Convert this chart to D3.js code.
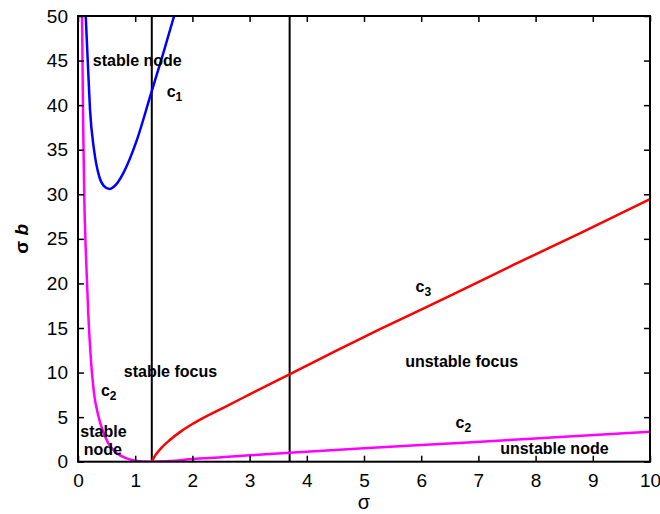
<!DOCTYPE html>
<html><head><meta charset="utf-8">
<script src="https://cdn.jsdelivr.net/npm/d3@7"></script>
<style>
body{margin:0;background:#fff;}
svg{display:block;}
text{font-family:"Liberation Sans",Arial,sans-serif;}
</style></head>
<body>
<svg id="chart" width="660" height="514"></svg>
<script>
// ---- data ----
const xTicks = [0,1,2,3,4,5,6,7,8,9,10];
const yTicks = [0,5,10,15,20,25,30,35,40,45,50];
const c1 = [[0.135,50],[0.17,45],[0.21,39.5],[0.28,35],[0.37,32],[0.45,30.95],[0.55,30.6],[0.66,31.05],[0.79,32.35],[1.03,36.1],[1.276,41.3],[1.49,45.8],[1.68,50]];
const c2Left = [[0.07,50],[0.09,38],[0.11,29.5],[0.14,23],[0.18,16.5],[0.22,12],[0.28,7.7],[0.35,5.3],[0.41,3.9],[0.53,2.06],[0.68,0.94],[0.85,0.38],[1.0,0.12],[1.15,0.02],[1.29,0]];
const c2Right = [[1.29,0],[1.6,0.08],[2.0,0.3],[2.5,0.5],[3.0,0.72],[3.7,1.0],[5,1.5],[6.74,2.13],[8.5,2.8],[10,3.37]];
const c3 = [[1.29,0],[1.35,0.7],[1.45,1.5],[1.6,2.4],[1.8,3.4],[2.02,4.3],[2.54,6.05],[3.0,7.55],[3.68,9.75],[4.5,12.4],[5.28,14.86],[6.5,18.6],[7.61,22.07],[8.8,25.7],[10,29.45]];
const vLines = [1.29, 3.70];
const regionLabels = [
  {t:"stable node", x:0.26, y:44.4},
  {t:"stable focus", x:0.8, y:9.5},
  {t:"stable", x:0.04, y:2.8},
  {t:"node", x:0.1, y:0.75},
  {t:"unstable focus", x:5.72, y:10.6},
  {t:"unstable node", x:7.38, y:0.85}
];
const curveLabels = [
  {c:"c", s:"1", x:1.55, y:40.9},
  {c:"c", s:"2", x:0.4, y:7.4},
  {c:"c", s:"3", x:5.9, y:19.0},
  {c:"c", s:"2", x:6.6, y:3.8}
];

// ---- layout ----
const W=660,H=514;
const m={l:78,r:10,t:16,b:52.3};
const svg=d3.select("#chart");
const x=d3.scaleLinear().domain([0,10]).range([m.l,W-m.r]);
const y=d3.scaleLinear().domain([0,50]).range([H-m.b,m.t]);

const line=d3.line().x(d=>x(d[0])).y(d=>y(d[1])).curve(d3.curveMonotoneX);
const clip=svg.append("clipPath").attr("id","clp").append("rect")
  .attr("x",m.l).attr("y",m.t).attr("width",W-m.l-m.r).attr("height",H-m.t-m.b);
const g=svg.append("g").attr("clip-path","url(#clp)");

g.selectAll(".vl").data(vLines).enter().append("line")
  .attr("x1",d=>x(d)).attr("x2",d=>x(d)).attr("y1",y(0)).attr("y2",y(50))
  .attr("stroke","#000").attr("stroke-width",2);

g.append("path").datum(c3).attr("d",line).attr("fill","none").attr("stroke","#ff0000").attr("stroke-width",2.5);
g.append("path").datum(c2Right).attr("d",line).attr("fill","none").attr("stroke","#ff00ff").attr("stroke-width",2.5);
g.append("path").datum(c2Left).attr("d",line).attr("fill","none").attr("stroke","#ff00ff").attr("stroke-width",2.5);
g.append("path").datum(c1).attr("d",line).attr("fill","none").attr("stroke","#0000ff").attr("stroke-width",2.5);

// axes
const fs=19;
const ax=svg.append("g").attr("transform",`translate(0,${y(0)})`)
  .call(d3.axisBottom(x).tickValues(xTicks).tickFormat(d3.format("d")).tickSizeInner(-6).tickSizeOuter(0).tickPadding(12));
const ay=svg.append("g").attr("transform",`translate(${x(0)},0)`)
  .call(d3.axisLeft(y).tickValues(yTicks).tickFormat(d3.format("d")).tickSizeInner(-6).tickSizeOuter(0).tickPadding(10));
const at=svg.append("g").attr("transform",`translate(0,${y(50)})`)
  .call(d3.axisTop(x).tickValues(xTicks).tickFormat("").tickSizeInner(-6).tickSizeOuter(0));
const ar=svg.append("g").attr("transform",`translate(${x(10)},0)`)
  .call(d3.axisRight(y).tickValues(yTicks).tickFormat("").tickSizeInner(-6).tickSizeOuter(0));
[ax,ay,at,ar].forEach(a=>{
  a.selectAll(".domain").remove();
  a.selectAll(".tick line").attr("stroke","#000").attr("stroke-width",1.5);
  a.selectAll(".tick text").attr("font-size",fs).attr("fill","#000").attr("font-family","Liberation Sans, Arial, sans-serif");
});
svg.append("rect").attr("x",x(0)).attr("y",y(50)).attr("width",x(10)-x(0)).attr("height",y(0)-y(50))
  .attr("fill","none").attr("stroke","#000").attr("stroke-width",2);

// region labels
svg.selectAll(".rl").data(regionLabels).enter().append("text")
  .attr("x",d=>x(d.x)).attr("y",d=>y(d.y)).attr("font-size",16).attr("font-weight","bold").attr("fill","#000")
  .text(d=>d.t);
const cl=svg.selectAll(".cl").data(curveLabels).enter().append("text")
  .attr("x",d=>x(d.x)).attr("y",d=>y(d.y)).attr("font-size",16).attr("font-weight","bold").attr("fill","#000");
cl.append("tspan").text(d=>d.c);
cl.append("tspan").attr("font-size",12).attr("dy",4).text(d=>d.s);

// axis titles
svg.append("text").attr("x",x(5)).attr("y",509).attr("text-anchor","middle")
  .attr("font-family","Liberation Serif, Times New Roman, serif").attr("font-size",20).text("σ");
const yl=svg.append("text").attr("transform",`translate(28,${(y(0)+y(50))/2}) rotate(-90)`)
  .attr("text-anchor","middle").attr("font-size",19).attr("font-weight","bold");
yl.append("tspan").text("σ ");
yl.append("tspan").attr("font-style","italic").text("b");
</script>
</body></html>
